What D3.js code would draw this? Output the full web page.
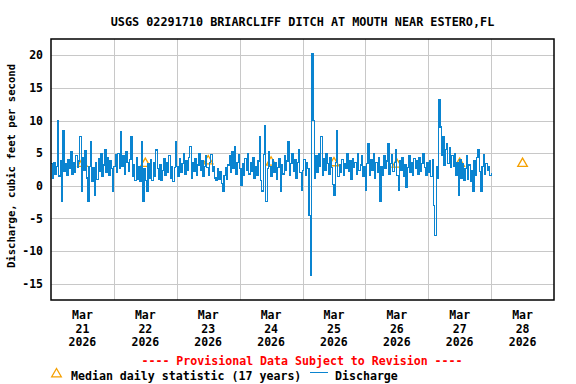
<!DOCTYPE html>
<html>
<head>
<meta charset="utf-8">
<script src="https://cdn.jsdelivr.net/npm/d3@7.9.0/dist/d3.min.js"></script>
<style>
  body { margin: 0; background: #fff; }
  svg { display: block; }
  text { font-family: "DejaVu Sans Mono", monospace; font-weight: bold; }
</style>
</head>
<body>
<svg id="chart" width="576" height="384"></svg>
<script>
// discharge, cfs, every 30 minutes starting at midnight of each day
const mar21 = [3.4,1.2,3.6,1.8,3.0,10.0,1.5,3.8,-2.4,8.4,2.2,3.4,1.6,4.0,2.6,5.2,1.8,3.6,2.0,4.6,2.8,3.8,7.5,-0.8,
  4.4,2.4,5.4,1.2,-2.4,3.0,6.7,0.6,2.8,-1.5,3.6,1.0,4.2,2.2,5.0,1.4,3.2,5.6,2.0,4.4,1.6,3.8,2.6,-0.8];
const mar22 = [3.0,4.8,2.0,5.0,2.6,8.3,3.0,4.6,1.8,5.2,3.6,2.2,4.0,7.5,1.4,3.2,0.8,4.4,1.0,3.0,0.6,6.7,-2.4,2.6,
  0.8,-0.8,3.4,1.2,4.0,0.8,3.6,1.4,5.5,2.6,1.0,3.2,0.8,2.4,4.2,1.6,3.6,2.0,4.6,1.2,3.0,0.6,2.8,6.7];
const mar23 = [3.0,1.4,4.2,2.0,3.4,5.0,1.8,3.8,2.4,4.4,6.0,1.2,3.6,2.2,4.2,1.6,3.2,5.0,2.4,3.8,1.4,3.0,4.6,2.8,
  1.6,3.6,4.8,2.2,3.0,1.2,0.8,2.6,1.0,2.2,0.4,-0.8,1.6,2.8,1.0,3.2,4.6,2.0,5.2,2.6,6.0,1.8,3.6,4.8];
const mar24 = [2.6,0.0,3.4,1.6,4.2,2.4,5.0,1.8,3.6,2.2,4.4,1.2,3.0,1.6,3.8,7.5,0.8,-0.8,4.8,9.2,-2.4,2.6,5.2,3.0,
  1.4,4.0,2.0,3.6,1.0,2.8,4.2,-0.8,3.2,1.8,4.6,2.4,3.8,6.7,1.6,3.4,5.0,2.2,4.0,1.2,3.6,5.5,2.0,-0.7];
const mar25 = [2.4,4.0,1.6,3.6,2.6,-4.6,-13.8,20.3,10.0,1.2,4.6,2.0,5.0,3.0,7.5,1.6,4.2,2.4,5.0,3.4,1.8,4.4,2.8,0.2,
  -1.5,3.6,8.4,1.4,3.2,2.0,4.0,1.6,3.4,2.6,5.0,2.2,3.8,1.0,4.2,2.8,3.6,1.8,5.0,2.4,3.2,4.6,1.4,3.0];
const mar26 = [-0.7,3.4,6.5,1.6,4.0,2.4,5.0,1.2,3.6,2.0,4.4,-2.4,3.0,1.6,4.6,2.6,3.8,6.5,1.8,3.4,4.8,2.2,3.6,5.5,
  1.6,-0.7,3.8,2.4,4.4,1.4,3.2,-0.2,2.8,4.6,2.0,3.6,1.6,4.2,2.6,3.8,1.8,4.4,2.2,3.4,5.0,2.8,1.6,3.6];
const mar27 = [2.0,3.8,1.4,4.0,-3.0,-7.6,3.0,1.2,13.2,9.0,4.6,7.5,3.2,5.6,6.5,3.4,5.8,2.8,4.6,3.0,5.0,1.6,3.6,-1.5,
  4.0,1.2,3.4,0.8,2.6,4.6,1.0,3.2,0.6,2.4,-0.8,3.8,1.6,4.4,5.5,2.2,-0.8,3.0,4.8,1.8,3.4,2.4,3.0,1.6];
const mar28 = [1.9,1.9];

const medianDays = [21,22,23,24,25,26,27,28];
const medianValues = [3.4,3.4,3.8,3.6,3.5,3.3,3.4,3.4];
const yTicks = [-15,-10,-5,0,5,10,15,20];

const title = "USGS 02291710 BRIARCLIFF DITCH AT MOUTH NEAR ESTERO,FL";

const W = 576, H = 384;
const margin = {top: 39, right: 22, bottom: 84, left: 51};
const svg = d3.select('#chart');

const x = d3.scaleUtc()
  .domain([new Date(Date.UTC(2026,2,21)), new Date(Date.UTC(2026,2,29))])
  .range([margin.left, W - margin.right]);
const y = d3.scaleLinear().domain([-17.5, 22.5]).range([H - margin.bottom, margin.top]);

// build the discharge series
let discharge = [];
[mar21, mar22, mar23, mar24, mar25, mar26, mar27, mar28].forEach((day, i) => {
  day.forEach((v, j) => {
    discharge.push({t: new Date(Date.UTC(2026,2,21 + i, 0, 30 * j)), v: v});
  });
});

// grid
const dayLines = d3.utcDay.range(new Date(Date.UTC(2026,2,22)), new Date(Date.UTC(2026,2,29)));
svg.append('g').selectAll('line')
  .data(dayLines)
  .join('line')
  .attr('x1', d => Math.round(x(d)) + 0.5).attr('x2', d => Math.round(x(d)) + 0.5)
  .attr('y1', margin.top).attr('y2', H - margin.bottom)
  .attr('stroke', '#c8c8c8');
svg.append('g').selectAll('line')
  .data(yTicks)
  .join('line')
  .attr('x1', margin.left).attr('x2', W - margin.right)
  .attr('y1', d => Math.round(y(d)) + 0.5).attr('y2', d => Math.round(y(d)) + 0.5)
  .attr('stroke', '#c8c8c8');

// y labels
svg.append('g').selectAll('text')
  .data(yTicks)
  .join('text')
  .attr('x', 43).attr('y', d => y(d))
  .attr('dy', '0.36em')
  .attr('text-anchor', 'end')
  .attr('font-size', 11.5)
  .text(d => d < 0 ? '-' + Math.abs(d) : d);

// x labels
const labelDays = d3.utcDay.range(new Date(Date.UTC(2026,2,21)), new Date(Date.UTC(2026,2,29)));
const xl = svg.append('g').selectAll('text')
  .data(labelDays)
  .join('text')
  .attr('text-anchor', 'middle')
  .attr('font-size', 11.5);
xl.append('tspan').attr('x', d => x(d3.utcHour.offset(d, 12))).attr('y', 319).text('Mar');
xl.append('tspan').attr('x', d => x(d3.utcHour.offset(d, 12))).attr('y', 332.5).text(d => d.getUTCDate());
xl.append('tspan').attr('x', d => x(d3.utcHour.offset(d, 12))).attr('y', 346).text(d => d.getUTCFullYear());

// median triangles
const tri = d3.symbol().type(d3.symbolTriangle).size(40);
svg.append('g').selectAll('path')
  .data(medianDays.map((d, i) => ({t: new Date(Date.UTC(2026,2,d,12)), v: medianValues[i]})))
  .join('path')
  .attr('transform', d => `translate(${x(d.t)},${y(d.v)})`)
  .attr('d', tri)
  .attr('fill', 'none')
  .attr('stroke', '#f5a000')
  .attr('stroke-width', 1.3);

// discharge line (stepped, pixel-crisp like the original plot)
svg.append('path')
  .datum(discharge)
  .attr('fill', 'none')
  .attr('stroke', '#0a84d0')
  .attr('stroke-width', 1.2)
  .attr('shape-rendering', 'crispEdges')
  .attr('d', d3.line().curve(d3.curveStepAfter).x(d => x(d.t)).y(d => y(d.v)));

// frame
svg.append('rect')
  .attr('x', margin.left).attr('y', margin.top)
  .attr('width', W - margin.left - margin.right)
  .attr('height', H - margin.top - margin.bottom)
  .attr('fill', 'none')
  .attr('stroke', '#000')
  .attr('stroke-width', 1.5);

// title
svg.append('text')
  .attr('x', (margin.left + W - margin.right) / 2).attr('y', 26)
  .attr('text-anchor', 'middle')
  .attr('font-size', 11.8)
  .text(title);

// y axis title
svg.append('text')
  .attr('transform', 'translate(15,166) rotate(-90)')
  .attr('text-anchor', 'middle')
  .attr('font-size', 10.6)
  .text('Discharge, cubic feet per second');

// provisional note
svg.append('text')
  .attr('x', 302).attr('y', 365)
  .attr('text-anchor', 'middle')
  .attr('font-size', 11.6)
  .attr('fill', '#ff0000')
  .text('---- Provisional Data Subject to Revision ----');

// legend
const lg = svg.append('g');
lg.append('path')
  .attr('transform', 'translate(56.5,374)')
  .attr('d', tri)
  .attr('fill', 'none')
  .attr('stroke', '#f5a000')
  .attr('stroke-width', 1.3);
lg.append('text').attr('x', 71).attr('y', 379.5).attr('font-size', 11.6)
  .text('Median daily statistic (17 years)');
lg.append('line')
  .attr('x1', 310).attr('x2', 328).attr('y1', 372.5).attr('y2', 372.5)
  .attr('stroke', '#0a84d0').attr('stroke-width', 1);
lg.append('text').attr('x', 335).attr('y', 379.5).attr('font-size', 11.6)
  .text('Discharge');
</script>
</body>
</html>
